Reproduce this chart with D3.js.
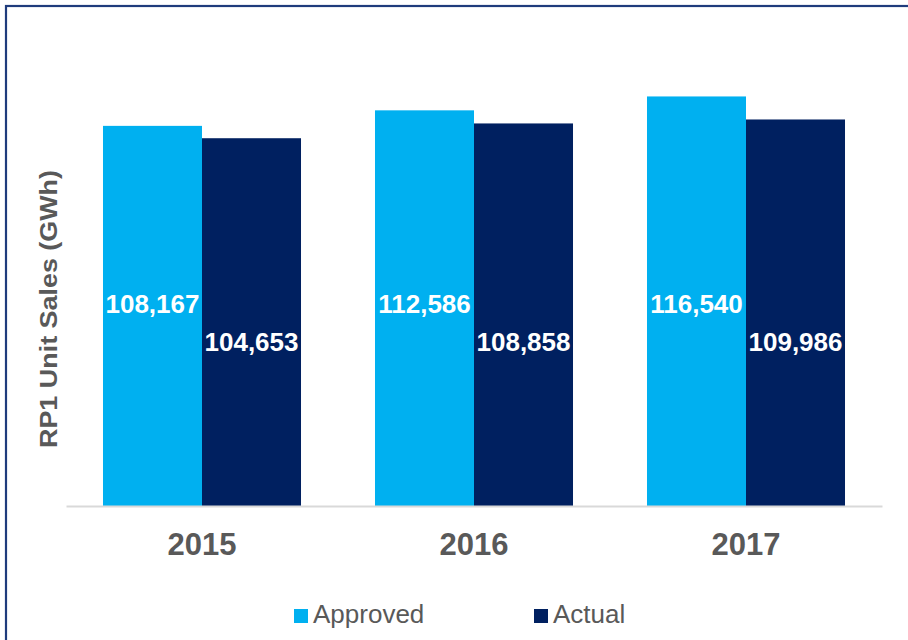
<!DOCTYPE html>
<html>
<head>
<meta charset="utf-8">
<script src="https://cdn.jsdelivr.net/npm/d3@7"></script>
<style>
  body { margin: 0; background: #fff; }
  svg { display: block; font-family: "Liberation Sans", Arial, sans-serif; }
</style>
</head>
<body>
<div id="chart"></div>
<script>
const years = ["2015", "2016", "2017"];
const seriesNames = ["Approved", "Actual"];
const approved = [108167, 112586, 116540];
const actual = [104653, 108858, 109986];
const colors = ["#00b0f0", "#002060"];

const W = 908, H = 640;
const svg = d3.select("#chart").append("svg")
  .attr("width", W)
  .attr("height", H);

// outer frame
svg.append("rect")
  .attr("x", 6).attr("y", 6)
  .attr("width", W + 20).attr("height", H + 20)
  .attr("fill", "none")
  .attr("stroke", "#1f3c7c")
  .attr("stroke-width", 2.2);

const x = d3.scaleBand().domain(years).range([66, 882])
  .paddingInner(0.272).paddingOuter(0.136);
const xs = d3.scaleBand().domain(seriesNames).range([0, x.bandwidth()]);
const y = d3.scaleLinear().domain([0, 140000]).range([506, 14]);

const rows = years.map((yr, i) => ({ year: yr, vals: [approved[i], actual[i]] }));

const groups = svg.selectAll("g.year").data(rows).enter().append("g")
  .attr("class", "year")
  .attr("transform", d => "translate(" + x(d.year) + ",0)");

groups.selectAll("rect").data(d => d.vals.map((v, j) => ({ name: seriesNames[j], v: v, j: j })))
  .enter().append("rect")
  .attr("x", d => xs(d.name))
  .attr("width", xs.bandwidth())
  .attr("y", d => y(d.v))
  .attr("height", d => y(0) - y(d.v))
  .attr("fill", d => colors[d.j]);

// value labels (fixed heights, as in the original)
const labelY = [313, 351];
groups.selectAll("text.val").data(d => d.vals.map((v, j) => ({ name: seriesNames[j], v: v, j: j })))
  .enter().append("text")
  .attr("class", "val")
  .attr("x", d => xs(d.name) + xs.bandwidth() / 2)
  .attr("y", d => labelY[d.j])
  .attr("text-anchor", "middle")
  .attr("fill", "#fff")
  .attr("font-weight", "bold")
  .attr("font-size", 26)
  .text(d => d3.format(",")(d.v));

// x axis
const xAxis = svg.append("g")
  .attr("transform", "translate(0," + y(0) + ")")
  .call(d3.axisBottom(x).tickSize(0).tickSizeOuter(0).tickPadding(27));
xAxis.select(".domain").attr("stroke", "#d9d9d9").attr("stroke-width", 2);
xAxis.selectAll("text")
  .attr("font-family", "Liberation Sans, Arial, sans-serif")
  .attr("font-size", 31)
  .attr("font-weight", "bold")
  .attr("fill", "#595959");

// y title
svg.append("text")
  .attr("transform", "translate(57,309) rotate(-90)")
  .attr("text-anchor", "middle")
  .attr("font-size", 24)
  .attr("font-weight", "bold")
  .attr("fill", "#595959")
  .attr("textLength", 278)
  .attr("lengthAdjust", "spacingAndGlyphs")
  .text("RP1 Unit Sales (GWh)");

// legend
const legendX = [294, 534];
const legend = svg.selectAll("g.leg").data(seriesNames).enter().append("g")
  .attr("class", "leg")
  .attr("transform", (d, i) => "translate(" + legendX[i] + ",609)");
legend.append("rect")
  .attr("width", 14).attr("height", 14)
  .attr("fill", (d, i) => colors[i]);
legend.append("text")
  .attr("x", 19).attr("y", 14)
  .attr("font-size", 26)
  .attr("fill", "#595959")
  .text(d => d);
</script>
</body>
</html>
